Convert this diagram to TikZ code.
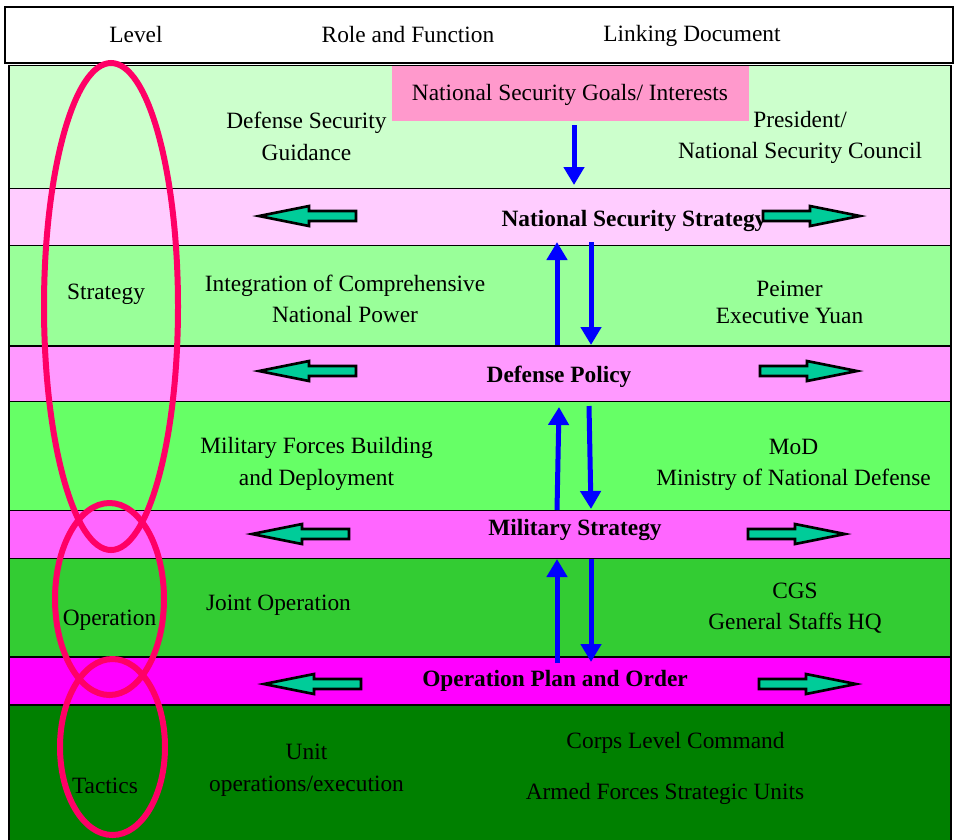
\documentclass[tikz,border=0pt]{standalone}
\usepackage{fontspec}
\setmainfont{Liberation Serif}
\usetikzlibrary{arrows.meta}

\definecolor{bandA}{HTML}{CCFFCC}
\definecolor{bandB}{HTML}{FFCCFF}
\definecolor{bandC}{HTML}{99FF99}
\definecolor{bandD}{HTML}{FF99FF}
\definecolor{bandE}{HTML}{66FF66}
\definecolor{bandF}{HTML}{FF66FF}
\definecolor{bandG}{HTML}{33CC33}
\definecolor{bandH}{HTML}{FF00FF}
\definecolor{bandI}{HTML}{008000}
\definecolor{goalpink}{HTML}{FF99CC}
\definecolor{ringred}{HTML}{FF0066}
\definecolor{arrowgreen}{HTML}{00CC99}

\tikzset{
  band/.style={draw=black, line width=0.9pt},
  txt/.style={font=\fontsize{13.3}{18}\selectfont, align=center, inner sep=0pt},
  doc/.style={txt, font=\fontsize{13.3}{18}\selectfont\bfseries},
  flow/.style={draw=blue, line width=0.1cm, -{Triangle[length=0.36cm,width=0.4cm]}},
  ring/.style={draw=ringred, line width=0.12cm},
  fat/.pic={\draw[fill=arrowgreen, line width=1.5pt, line join=miter]
    (0,-5) -- (47,-5) -- (47,-10) -- (97,0) -- (47,10) -- (47,5) -- (0,5) -- cycle;}
}

\begin{document}
\begin{tikzpicture}[x=0.02cm, y=-0.02cm]
\useasboundingbox (0,0) rectangle (955,839);

% header
\draw[line width=1.1pt, fill=white] (5,7) rectangle (953,63);
\node[txt] (level) at (136,35) {Level};
\node[txt] (role) at (408,35) {Role and Function};
\node[txt] (link) at (692,35.5) {Linking Document};

% bands
\draw[band, fill=bandA] (9,65.5) rectangle (951,188.5);
\draw[band, fill=bandB] (9,188.5) rectangle (951,245.5);
\draw[band, fill=bandC] (9,245.5) rectangle (951,346);
\draw[band, fill=bandD] (9,346) rectangle (951,401.5);
\draw[band, fill=bandE] (9,401.5) rectangle (951,510.5);
\draw[band, fill=bandF] (9,510.5) rectangle (951,558.5);
\draw[band, fill=bandG] (9,558.5) rectangle (951,657);
\draw[band, fill=bandH] (9,657) rectangle (951,705);
\draw[band, fill=bandI] (9,705) rectangle (951,845);

\node[txt, fill=goalpink, minimum width=7.14cm, minimum height=1.1cm] (goals) at (570.5,93.5) {};
\node[txt] (goalstxt) at (570,95) {National Security Goals/ Interests};

% role and function / linking document
\node[txt] (dsg) at (306.5,136.5) {Defense Security\\Guidance};
\node[txt] (pres) at (800,137.5) {President/\\National Security Council};
\node[doc] (nss) at (634,220.5) {National Security Strategy};
\node[txt] (icnp) at (345,299) {Integration of Comprehensive\\National Power};
\node[txt, font=\fontsize{13.3}{15.5}\selectfont] (ey) at (789.5,302) {Peimer\\Executive Yuan};
\node[doc] (dp) at (559,376.5) {Defense Policy};
\node[txt] (mfb) at (316.5,464) {Military Forces Building\\and Deployment};
\node[txt] (mod) at (793.5,465) {MoD\\Ministry of National Defense};
\node[doc] (ms) at (575,529.5) {Military Strategy};
\node[txt] (jo) at (278.5,605.5) {Joint Operation};
\node[txt] (cgs) at (795,608) {CGS\\General Staffs HQ};
\node[doc] (opo) at (555,681) {Operation Plan and Order};
\node[txt] (unit) at (306.5,770.5) {Unit\\operations/execution};
\node[txt] (corps) at (675.5,742.5) {Corps Level Command};
\node[txt] (afsu) at (665,793.5) {Armed Forces Strategic Units};

% green arrows
\pic[rotate=180] at (356,216) {fat};
\pic at (763,216) {fat};
\pic[rotate=180] at (356,371) {fat};
\pic at (760,371) {fat};
\pic[rotate=180] at (349,534) {fat};
\pic at (748,534) {fat};
\pic[rotate=180] at (361,684) {fat};
\pic at (759,684) {fat};

% blue arrows
\coordinate (g0) at (574,125);
\coordinate (s0) at (574,185);
\coordinate (up1a) at (557,345);
\coordinate (up1b) at (557,242);
\coordinate (dn1a) at (591,242);
\coordinate (dn1b) at (591,345);
\coordinate (up2a) at (557,510);
\coordinate (up2b) at (559,407);
\coordinate (dn2a) at (589,406);
\coordinate (dn2b) at (591,509);
\coordinate (up3a) at (557,663);
\coordinate (up3b) at (557,559);
\coordinate (dn3a) at (591,559);
\coordinate (dn3b) at (591,662);
\draw[flow] (g0) -- (s0);
\draw[flow] (up1a) -- (up1b);
\draw[flow] (dn1a) -- (dn1b);
\draw[flow] (up2a) -- (up2b);
\draw[flow] (dn2a) -- (dn2b);
\draw[flow] (up3a) -- (up3b);
\draw[flow] (dn3a) -- (dn3b);

% levels
\draw[ring] (111,306.5) ellipse [x radius=67, y radius=243.5];
\draw[ring] (109.5,599) ellipse [x radius=54.5, y radius=96];
\draw[ring] (112.5,747) ellipse [x radius=52.5, y radius=88];
\node[txt] (lvs) at (106,294) {Strategy};
\node[txt] (lvo) at (109.5,620.5) {Operation};
\node[txt] (lvt) at (105,785.5) {Tactics};

\end{tikzpicture}
\end{document}
